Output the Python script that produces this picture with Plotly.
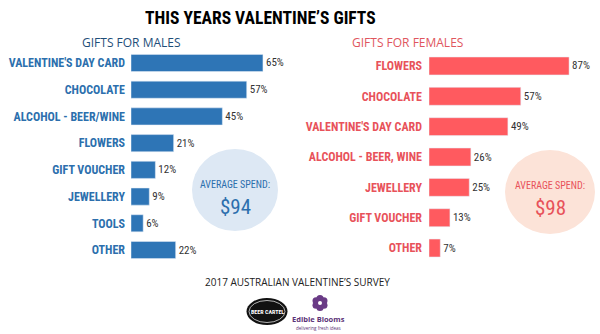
import plotly.graph_objects as go
import math

# ---- data ----
male_cats = ["VALENTINE'S DAY CARD", "CHOCOLATE", "ALCOHOL - BEER/WINE", "FLOWERS",
             "GIFT VOUCHER", "JEWELLERY", "TOOLS", "OTHER"]
male_vals = [65, 57, 45, 21, 12, 9, 6, 22]
female_cats = ["FLOWERS", "CHOCOLATE", "VALENTINE'S DAY CARD", "ALCOHOL - BEER, WINE",
               "JEWELLERY", "GIFT VOUCHER", "OTHER"]
female_vals = [87, 57, 49, 26, 25, 13, 7]
male_avg = "$94"
female_avg = "$98"

W, H = 600, 334
def X(px): return px / W
def Y(py): return 1 - py / H

COND = "Roboto Condensed, Liberation Sans Narrow, DejaVu Sans Condensed, Roboto, sans-serif"
REG = "Open Sans, sans-serif"
BLUE = "#2e75b6"
RED = "#ff5a5f"
BLUE_T = "#2c6fad"
RED_T = "#e8525a"

fig = go.Figure()
fig.add_trace(go.Bar(
    y=male_cats, x=male_vals, orientation="h", marker_color=BLUE, width=0.64,
    texttemplate="%{x}%", textposition="outside", cliponaxis=False,
    textfont=dict(family=COND, size=11, color="#333333"),
    xaxis="x", yaxis="y", showlegend=False, hoverinfo="x+y"))
fig.add_trace(go.Bar(
    y=female_cats, x=female_vals, orientation="h", marker_color=RED, width=0.59,
    texttemplate="%{x}%", textposition="outside", cliponaxis=False,
    textfont=dict(family=COND, size=11, color="#333333"),
    xaxis="x2", yaxis="y2", showlegend=False, hoverinfo="x+y"))

lx0 = 131; lR = 80
rx0 = 429; rR = 100
fig.update_layout(
    width=W, height=H, margin=dict(l=0, r=0, t=0, b=0, autoexpand=False),
    paper_bgcolor="white", plot_bgcolor="rgba(0,0,0,0)",
    xaxis=dict(domain=[X(lx0), X(lx0 + 2.03 * lR)], range=[0, lR], visible=False,
               automargin=False),
    yaxis=dict(domain=[Y(263.4), Y(49.6)], autorange="reversed", anchor="x",
               automargin=False,
               showgrid=False, zeroline=False, showline=False, ticks="",
               ticklabelstandoff=5,
               tickfont=dict(family=COND, size=12, color=BLUE_T, weight="bold")),
    xaxis2=dict(domain=[X(rx0), X(rx0 + 1.61 * rR)], range=[0, rR], visible=False,
                anchor="y2", automargin=False),
    yaxis2=dict(domain=[Y(263.2), Y(50.8)], autorange="reversed", anchor="x2",
                automargin=False,
                showgrid=False, zeroline=False, showline=False, ticks="",
                ticklabelstandoff=6,
                tickfont=dict(family=COND, size=12, color=RED_T, weight="bold")),
)

shapes = []
shapes.append(dict(type="circle", xref="paper", yref="paper", layer="below",
                   x0=X(235 - 43), x1=X(235 + 43), y0=Y(190 + 41), y1=Y(190 - 41),
                   fillcolor="#dde8f4", line=dict(width=0)))
shapes.append(dict(type="circle", xref="paper", yref="paper", layer="below",
                   x0=X(550 - 45), x1=X(550 + 45), y0=Y(192 + 42), y1=Y(192 - 42),
                   fillcolor="#fce3d8", line=dict(width=0)))
# Beer Cartel logo
shapes.append(dict(type="circle", xref="paper", yref="paper",
                   x0=X(246.5), x1=X(287.5), y0=Y(325), y1=Y(298),
                   fillcolor="#111111", line=dict(width=0)))
shapes.append(dict(type="circle", xref="paper", yref="paper",
                   x0=X(249), x1=X(285), y0=Y(322.5), y1=Y(300.5),
                   fillcolor="rgba(0,0,0,0)", line=dict(width=0.8, color="#dddddd")))
# Edible Blooms flower
fcx, fcy = 320, 303
for k in range(6):
    a = k * math.pi / 3 + math.pi / 6
    px, py = fcx + 4.5 * math.cos(a), fcy + 4.5 * math.sin(a)
    shapes.append(dict(type="circle", xref="paper", yref="paper",
                       x0=X(px - 3.6), x1=X(px + 3.6), y0=Y(py + 3.6), y1=Y(py - 3.6),
                       fillcolor="#6a3b86", line=dict(width=0)))
shapes.append(dict(type="circle", xref="paper", yref="paper",
                   x0=X(fcx - 2), x1=X(fcx + 2), y0=Y(fcy + 2), y1=Y(fcy - 2),
                   fillcolor="#ffffff", line=dict(width=0)))
fig.update_layout(shapes=shapes)

def ann(text, x, y, size, color, family, weight="normal", xanchor="center"):
    fig.add_annotation(text=text, x=X(x), y=Y(y), xref="paper", yref="paper",
                       xanchor=xanchor, yanchor="middle", showarrow=False,
                       font=dict(size=size, color=color, family=family, weight=weight))

ann("THIS YEARS VALENTINE’S GIFTS", 260, 18, 17.5, "#000000", COND, "bold")
ann("GIFTS FOR MALES", 131, 42, 12, "#1f4e79", REG)
ann("GIFTS FOR FEMALES", 407, 42, 12, "#e0565e", REG)
ann("AVERAGE SPEND:", 235, 184, 10, BLUE_T, COND)
ann(male_avg, 235, 207, 21, BLUE_T, COND)
ann("AVERAGE SPEND:", 550, 185, 10, RED_T, COND)
ann(female_avg, 550, 208, 21, RED_T, COND)
ann("2017 AUSTRALIAN VALENTINE’S SURVEY", 297, 282, 10, "#222222", REG)
ann("BEER CARTEL", 267, 311.5, 6, "#ffffff", COND, "bold")
ann("Edible Blooms", 318, 318.5, 7.5, "#5b3277", REG, "bold")
ann("delivering fresh ideas", 318, 328, 4.5, "#5b3277", REG)

fig.write_html("out.html")
